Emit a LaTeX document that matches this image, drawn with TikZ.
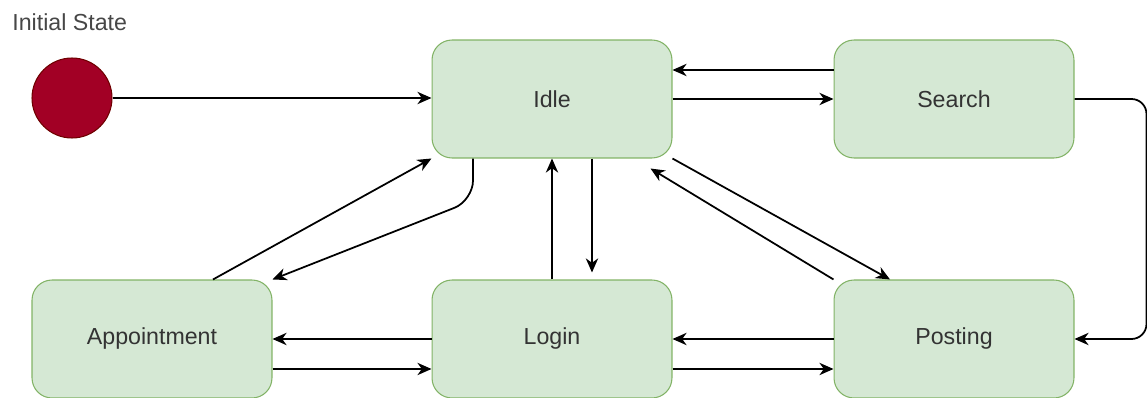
\documentclass[tikz,border=0pt]{standalone}
\usepackage{fontspec}
\setmainfont{Liberation Sans}
\usetikzlibrary{arrows.meta}
\definecolor{stfill}{HTML}{D5E8D4}
\definecolor{stline}{HTML}{82B366}
\definecolor{initfill}{HTML}{A20025}
\definecolor{initline}{HTML}{6F0000}
\definecolor{txt}{HTML}{333333}
\tikzset{statebox/.style={rectangle,rounded corners=0.4cm,draw=stline,fill=stfill,line width=0.6pt,
    minimum width=4.8cm,minimum height=2.36cm,text=txt,font=\fontsize{13.2}{15}\selectfont},
  flow/.style={-{Stealth[length=8pt,width=7pt,inset=2.5pt]},line width=1pt,black}}
\begin{document}
\begin{tikzpicture}[x=0.02cm,y=-0.02cm]
% \draw[help lines] (0,0) grid (1147,398);
\useasboundingbox (0,0) rectangle (1147,398);
\node (title) [anchor=west,inner sep=0pt,text=txt!90,font=\fontsize{13.2}{15}\selectfont] at (12,22.5) {Initial State};
\node (init) [circle,draw=initline,fill=initfill,line width=0.6pt,minimum size=1.6cm] at (72,98) {};
\node (idle) [statebox] at (552,99) {Idle};
\node (search) [statebox] at (954,99) {Search};
\node (appt) [statebox] at (152,339) {Appointment};
\node (login) [statebox] at (552,339) {Login};
\node (post) [statebox] at (954,339) {Posting};
%
\path[flow] (init.east) edge (init.east -| idle.west);
\path[flow] ([yshift=0.58cm]search.west) edge ([yshift=0.58cm]idle.east);
\path[flow] (idle.east) edge (search.west);
\draw[flow,rounded corners=0.3cm] (search.east) -| ([xshift=1.44cm]post.east) -- (post.east);
%
\draw[flow,rounded corners=0.4cm] ([xshift=-1.58cm]idle.south) -- ++(0,-0.84cm) -- (appt.north east);
\path[flow] ([xshift=1.22cm]appt.north) edge (idle.south west);
\path[flow] (login.north) edge (idle.south);
\path[flow] ([xshift=0.8cm]idle.south) edge ([xshift=0.8cm,yshift=0.14cm]login.north);
\path[flow] (post.north west) edge ([xshift=-0.44cm,yshift=-0.2cm]idle.south east);
\path[flow] (idle.south east) edge ([xshift=-1.28cm]post.north);
%
\path[flow] (login.west) edge (appt.east);
\path[flow] ([yshift=-0.6cm]appt.east) edge ([yshift=-0.6cm]login.west);
\path[flow] (post.west) edge (login.east);
\path[flow] ([yshift=-0.6cm]login.east) edge ([yshift=-0.6cm]post.west);
%
\end{tikzpicture}
\end{document}
